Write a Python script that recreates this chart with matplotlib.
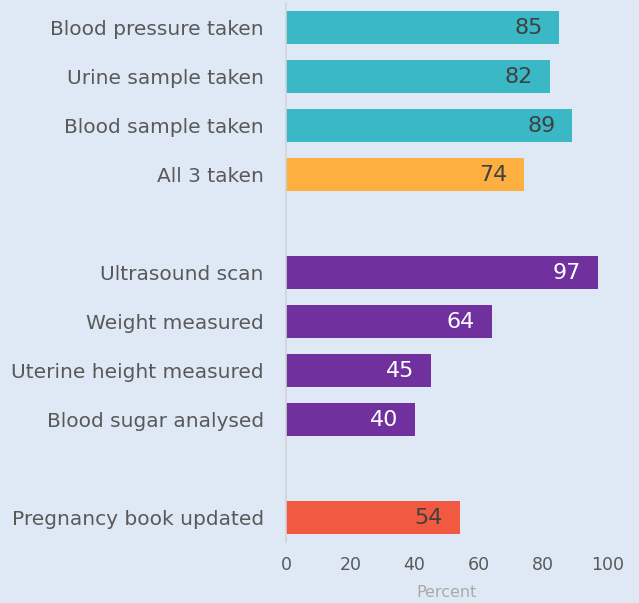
import matplotlib.pyplot as plt

# data
categories = ["Blood pressure taken", "Urine sample taken", "Blood sample taken", "All 3 taken",
              "Ultrasound scan", "Weight measured", "Uterine height measured", "Blood sugar analysed",
              "Pregnancy book updated"]
values = [85, 82, 89, 74, 97, 64, 45, 40, 54]
groups = [0, 0, 0, 0, 1, 1, 1, 1, 2]
kinds = ["test", "test", "test", "all", "exam", "exam", "exam", "exam", "book"]

colors = {"test": "#3bb8c6", "all": "#fdb040", "exam": "#70309e", "book": "#f15a40"}
text_colors = {"test": "#404040", "all": "#404040", "exam": "white", "book": "#404040"}
bg = "#dee9f5"

# one empty row between groups
ypos = [i + g for i, g in enumerate(groups)]

fig = plt.figure(figsize=(6.39, 6.03), dpi=100, facecolor=bg)
ax = fig.add_axes([0.4476, 0.101, 0.503, 0.894])
ax.set_facecolor(bg)

bars = ax.barh(ypos, values, height=0.67, color=[colors[k] for k in kinds])
for y, v, k in zip(ypos, values, kinds):
    ax.annotate(str(v), (v, y), xytext=(-12, 0), textcoords="offset points",
                ha="right", va="center", fontsize=16, color=text_colors[k])

ax.set_ylim(max(ypos) + 0.5, -0.5)
ax.set_xlim(0, 100)
ax.set_yticks(ypos)
ax.set_yticklabels(categories, fontsize=14.5, color="#595959")
ax.set_xticks([0, 20, 40, 60, 80, 100])
ax.tick_params(axis="x", length=0, pad=10, labelsize=12.5, labelcolor="#595959")
ax.tick_params(axis="y", length=0, pad=16)
ax.set_xlabel("Percent", fontsize=11.5, color="#aaaaaa", labelpad=8)

for s in ["top", "right", "bottom"]:
    ax.spines[s].set_visible(False)
ax.spines["left"].set_color("#d0d4d8")
ax.spines["left"].set_linewidth(1.2)

fig.savefig("out.png", dpi=100, facecolor=bg)
